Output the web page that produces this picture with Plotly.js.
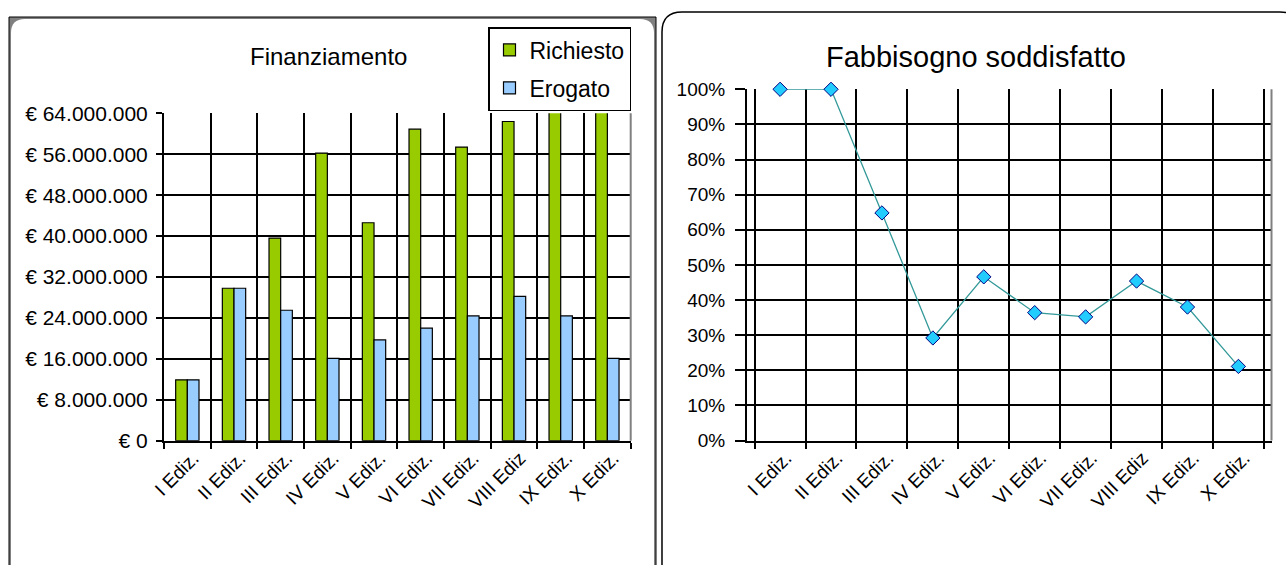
<!DOCTYPE html>
<html><head><meta charset="utf-8">
<script src="https://cdn.plot.ly/plotly-3.0.1.min.js"></script>
<style>html,body{margin:0;padding:0;background:#fff;} #chart{width:1286px;height:565px;}</style>
</head><body><div id="chart"></div>
<script>
// ---- data ----
const categories = ['I Ediz.', 'II Ediz.', 'III Ediz.', 'IV Ediz.', 'V Ediz.', 'VI Ediz.', 'VII Ediz.', 'VIII Ediz', 'IX Ediz.', 'X Ediz.'];
const richiesto = [11900000, 29800000, 39600000, 56200000, 42600000, 60900000, 57400000, 62400000, 64300000, 66000000];
const erogato   = [11900000, 29800000, 25500000, 16100000, 19700000, 22000000, 24400000, 28200000, 24400000, 16100000];
const fabbisogno = [1.00, 1.00, 0.648, 0.292, 0.466, 0.364, 0.352, 0.454, 0.380, 0.211];
const leftTickVals = [0, 8000000, 16000000, 24000000, 32000000, 40000000, 48000000, 56000000, 64000000];
const leftTickText = ['\u20AC 0', '\u20AC 8.000.000', '\u20AC 16.000.000', '\u20AC 24.000.000', '\u20AC 32.000.000',
                      '\u20AC 40.000.000', '\u20AC 48.000.000', '\u20AC 56.000.000', '\u20AC 64.000.000'];
const rightTickVals = [0, 0.1, 0.2, 0.3, 0.4, 0.5, 0.6, 0.7, 0.8, 0.9, 1.0];

// ---- geometry helpers (pixel -> paper) ----
const W = 1286, H = 565;
const px = x => x / W, py = y => 1 - y / H;
function roundRect(x0, y0, x1, y1, r) {
  const X = v => px(v).toFixed(5), Y = v => py(v).toFixed(5);
  return `M${X(x0 + r)},${Y(y0)} L${X(x1 - r)},${Y(y0)} Q${X(x1)},${Y(y0)} ${X(x1)},${Y(y0 + r)} ` +
         `L${X(x1)},${Y(y1 - r)} Q${X(x1)},${Y(y1)} ${X(x1 - r)},${Y(y1)} L${X(x0 + r)},${Y(y1)} ` +
         `Q${X(x0)},${Y(y1)} ${X(x0)},${Y(y1 - r)} L${X(x0)},${Y(y0 + r)} Q${X(x0)},${Y(y0)} ${X(x0 + r)},${Y(y0)} Z`;
}

const FONT = '"Liberation Sans", Arial, sans-serif';
const tickFont = {family: FONT, size: 19, color: '#000'};
const GRID = '#000';

const traces = [
  {type: 'bar', name: 'Richiesto', x: categories, y: richiesto, xaxis: 'x', yaxis: 'y', legendgroup: 'a',
   marker: {color: '#99CC00', line: {color: '#000', width: 1.2}}},
  {type: 'bar', name: 'Erogato', x: categories, y: erogato, xaxis: 'x', yaxis: 'y', legendgroup: 'b',
   marker: {color: '#99CCFF', line: {color: '#000', width: 1.2}}},
  {type: 'scatter', mode: 'lines+markers', name: 'Fabbisogno soddisfatto', x: categories, y: fabbisogno,
   xaxis: 'x2', yaxis: 'y2', showlegend: false, cliponaxis: false,
   line: {color: '#339999', width: 1.3},
   marker: {symbol: 'diamond', size: 11, color: '#22CCFF', line: {color: '#000080', width: 1}}}
];

const xCommon = {type: 'category', tickson: 'boundaries', showgrid: true, gridcolor: GRID, gridwidth: 2,
  showline: true, linecolor: '#000', linewidth: 2, ticks: 'outside', ticklen: 6, tickcolor: '#000', tickwidth: 2,
  tickangle: -45, tickfont: tickFont, fixedrange: true, zeroline: false, ticklabelshift: 6, ticklabelstandoff: -3};
const yCommon = {showgrid: true, gridcolor: GRID, gridwidth: 2, showline: true, linecolor: '#000', linewidth: 2,
  ticks: 'outside', tickcolor: '#000', tickwidth: 2, tickfont: tickFont, zeroline: false, fixedrange: true};

const layout = {
  width: W, height: H,
  margin: {l: 0, r: 0, t: 0, b: 0},
  paper_bgcolor: '#fff', plot_bgcolor: 'rgba(0,0,0,0)',
  separators: ',.',
  font: {family: FONT, color: '#000'},
  hovermode: false,
  barmode: 'group', bargap: 0.5, bargroupgap: 0,
  showlegend: true,
  legend: {x: px(488), y: py(27), xanchor: 'left', yanchor: 'top', bgcolor: '#fff', bordercolor: '#000',
    borderwidth: 1.5, font: {family: FONT, size: 23, color: '#000'}, tracegroupgap: 5, traceorder: 'grouped'},
  xaxis: Object.assign({}, xCommon, {domain: [px(164), px(630.7)], anchor: 'y'}),
  yaxis: Object.assign({}, yCommon, {domain: [py(440.7), py(113.3)], anchor: 'x', range: [0, 64000000],
    tickmode: 'array', tickvals: leftTickVals, ticktext: leftTickText, ticklen: 6, ticklabelstandoff: 4,
    tickfont: {family: FONT, size: 21, color: '#000'}}),
  xaxis2: Object.assign({}, xCommon, {domain: [px(747), px(1271.5)], anchor: 'y2'}),
  yaxis2: Object.assign({}, yCommon, {domain: [py(440.5), py(89.3)], anchor: 'x2', range: [0, 1],
    tickvals: rightTickVals, tickformat: '.0%', ticklen: 10, ticklabelstandoff: 6}),
  annotations: [
    {text: 'Finanziamento', xref: 'paper', yref: 'paper', x: px(328), y: py(57), xanchor: 'center', yanchor: 'middle',
     showarrow: false, font: {family: FONT, size: 24, color: '#000'}},
    {text: 'Fabbisogno soddisfatto', xref: 'paper', yref: 'paper', x: px(976), y: py(57), xanchor: 'center', yanchor: 'middle',
     showarrow: false, font: {family: FONT, size: 29, color: '#000'}}
  ],
  shapes: [
    {type: 'rect', xref: 'paper', yref: 'paper', x0: px(9), x1: px(656), y0: py(572), y1: py(17), layer: 'below',
     fillcolor: '#808080', line: {color: '#000', width: 1}},
    {type: 'path', xref: 'paper', yref: 'paper', path: roundRect(11, 19, 654, 590, 14), layer: 'below',
     fillcolor: '#fff', line: {width: 0}},
    {type: 'path', xref: 'paper', yref: 'paper', path: roundRect(662, 12, 1300, 585, 20), layer: 'below',
     fillcolor: '#fff', line: {color: '#000', width: 1.5}},
    {type: 'line', xref: 'x domain', yref: 'y domain', x0: 1, x1: 1, y0: 0, y1: 1, layer: 'above',
     line: {color: '#808080', width: 2}},
    {type: 'line', xref: 'x2 domain', yref: 'y2 domain', x0: 1, x1: 1, y0: 0, y1: 1, layer: 'above',
     line: {color: '#808080', width: 2}}
  ]
};

Plotly.newPlot('chart', traces, layout, {displayModeBar: false, staticPlot: true});
</script>
</body></html>
